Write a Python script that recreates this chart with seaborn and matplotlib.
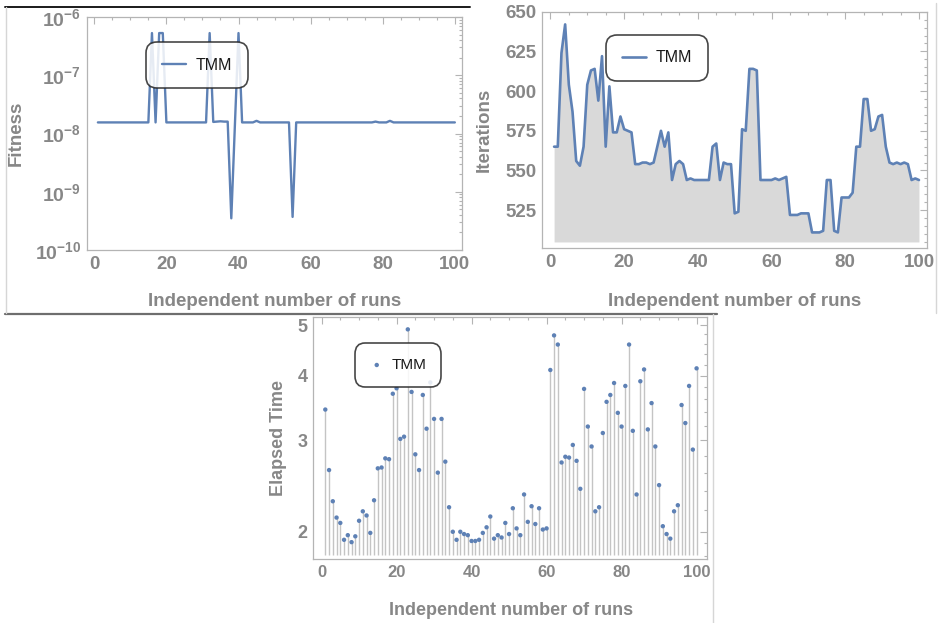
import numpy as np
import pandas as pd
import matplotlib
matplotlib.use("Agg")
import matplotlib.pyplot as plt
import seaborn as sns
from matplotlib.lines import Line2D
from matplotlib.ticker import FixedLocator, NullFormatter

# ---------------- data ----------------
runs = list(range(1, 101))

fitness = [
    1.55e-8, 1.55e-8, 1.55e-8, 1.55e-8, 1.55e-8, 1.55e-8, 1.55e-8, 1.55e-8, 1.55e-8, 1.55e-8,
    1.55e-8, 1.55e-8, 1.55e-8, 1.55e-8, 1.55e-8, 5.3e-7, 1.55e-8, 5.3e-7, 5.3e-7, 1.55e-8,
    1.55e-8, 1.55e-8, 1.55e-8, 1.55e-8, 1.55e-8, 1.55e-8, 1.55e-8, 1.55e-8, 1.55e-8, 1.55e-8,
    1.55e-8, 5.3e-7, 1.58e-8, 1.6e-8, 1.62e-8, 1.6e-8, 1.6e-8, 3.5e-10, 1.4e-8, 5.3e-7,
    1.55e-8, 1.55e-8, 1.55e-8, 1.55e-8, 1.65e-8, 1.55e-8, 1.55e-8, 1.55e-8, 1.55e-8, 1.55e-8,
    1.55e-8, 1.55e-8, 1.55e-8, 1.55e-8, 3.7e-10, 1.55e-8, 1.55e-8, 1.55e-8, 1.55e-8, 1.55e-8,
    1.55e-8, 1.55e-8, 1.55e-8, 1.55e-8, 1.55e-8, 1.55e-8, 1.55e-8, 1.55e-8, 1.55e-8, 1.55e-8,
    1.55e-8, 1.55e-8, 1.55e-8, 1.55e-8, 1.55e-8, 1.55e-8, 1.55e-8, 1.6e-8, 1.55e-8, 1.55e-8,
    1.55e-8, 1.65e-8, 1.55e-8, 1.55e-8, 1.55e-8, 1.55e-8, 1.55e-8, 1.55e-8, 1.55e-8, 1.55e-8,
    1.55e-8, 1.55e-8, 1.55e-8, 1.55e-8, 1.55e-8, 1.55e-8, 1.55e-8, 1.55e-8, 1.55e-8, 1.55e-8,
]

iterations = [
    565, 565, 624, 642, 604, 587, 556, 553, 565, 604,
    613, 614, 594, 622, 565, 603, 574, 574, 584, 576,
    575, 574, 554, 554, 555, 555, 554, 555, 565, 575,
    565, 574, 544, 554, 556, 554, 544, 545, 544, 544,
    544, 544, 544, 565, 567, 544, 555, 554, 554, 523,
    524, 576, 575, 614, 614, 613, 544, 544, 544, 544,
    545, 544, 545, 546, 522, 522, 522, 523, 523, 523,
    511, 511, 511, 512, 544, 544, 512, 511, 533, 533,
    533, 536, 565, 565, 595, 595, 575, 576, 584, 585,
    565, 555, 554, 555, 554, 555, 554, 544, 545, 544,
]

elapsed = [
    3.44, 2.63, 2.29, 2.13, 2.08, 1.93, 1.97, 1.91, 1.96, 2.10,
    2.19, 2.15, 1.99, 2.30, 2.65, 2.66, 2.77, 2.76, 3.69, 3.78,
    3.02, 3.05, 4.91, 3.72, 2.82, 2.63, 3.67, 3.16, 3.88, 3.30,
    2.60, 3.30, 2.73, 2.23, 2.00, 1.93, 2.00, 1.98, 1.97, 1.92,
    1.92, 1.93, 1.99, 2.04, 2.14, 1.94, 1.97, 1.95, 2.08, 1.98,
    2.22, 2.03, 1.97, 2.36, 2.09, 2.24, 2.07, 2.22, 2.02, 2.03,
    4.10, 4.78, 4.59, 2.72, 2.79, 2.78, 2.94, 2.74, 2.42, 3.77,
    3.19, 2.92, 2.19, 2.23, 3.10, 3.56, 3.67, 3.87, 3.39, 3.19,
    3.82, 4.59, 3.13, 2.36, 3.90, 4.11, 3.15, 3.54, 2.92, 2.46,
    2.05, 1.98, 1.94, 2.19, 2.25, 3.51, 3.24, 3.82, 2.88, 4.13,
]

series_name = "TMM"
x_label = "Independent number of runs"
x_ticks = [0, 20, 40, 60, 80, 100]
x_tick_labels = ["0", "20", "40", "60", "80", "100"]
fit_ticks = [1e-10, 1e-9, 1e-8, 1e-7, 1e-6]
fit_tick_labels = [r"$10^{-10}$", r"$10^{-9}$", r"$10^{-8}$", r"$10^{-7}$", r"$10^{-6}$"]
iter_ticks = [525, 550, 575, 600, 625, 650]
iter_tick_labels = ["525", "550", "575", "600", "625", "650"]
time_ticks = [2, 3, 4, 5]
time_tick_labels = ["2", "3", "4", "5"]

# ---------------- style ----------------
sns.set_style("white")
plt.rcParams["font.family"] = ["Liberation Sans", "DejaVu Sans"]
plt.rcParams["mathtext.fontset"] = "custom"
plt.rcParams["mathtext.rm"] = "Liberation Sans:bold"
plt.rcParams["mathtext.it"] = "Liberation Sans:bold"
plt.rcParams["mathtext.bf"] = "Liberation Sans:bold"
plt.rcParams["mathtext.sf"] = "Liberation Sans:bold"

BLUE = "#5E81B5"
GREY_TXT = "#878787"
SPINE = "#b4b4b4"

W, H = 939, 623
fig = plt.figure(figsize=(W / 100, H / 100), dpi=100)
fig.patch.set_facecolor("white")


def px_axes(l, t, r, b):
    return fig.add_axes([l / W, 1 - b / H, (r - l) / W, (b - t) / H])


def style_axes(ax, fs):
    for s in ax.spines.values():
        s.set_color(SPINE)
        s.set_linewidth(0.9)
    ax.tick_params(which="both", direction="in", top=True, right=True,
                   color=SPINE, labelcolor=GREY_TXT, labelsize=fs, width=0.8)
    ax.tick_params(which="major", length=5, pad=4)
    ax.tick_params(which="minor", length=2.5)
    ax.xaxis.set_major_locator(FixedLocator(x_ticks))
    ax.xaxis.set_minor_locator(FixedLocator(list(range(5, 100, 5))))
    ax.set_xticklabels(x_tick_labels, fontweight="bold", fontsize=fs, color=GREY_TXT)
    ax.grid(False)


def style_legend(ax, cx, cy, fs, hl, htp, bp):
    leg = ax.legend(loc="center", bbox_to_anchor=(cx / W, 1 - cy / H),
                    bbox_transform=fig.transFigure, frameon=True, fancybox=True,
                    framealpha=0.85, edgecolor="#262626", fontsize=fs,
                    handlelength=hl, handletextpad=htp, borderpad=bp)
    fr = leg.get_frame()
    fr.set_linewidth(1.2)
    fr.set_boxstyle("round,pad=0,rounding_size=0.7")
    for t in leg.get_texts():
        t.set_color("#1a1a1a")
    return leg


# ---------------- panel 1: fitness ----------------
df1 = pd.DataFrame({"run": runs, "fitness": fitness})
ax1 = px_axes(86.7, 17, 461.7, 250)
ax1.set_yscale("log")
sns.lineplot(data=df1, x="run", y="fitness", ax=ax1, color=BLUE, linewidth=1.7,
             label=series_name, estimator=None)
ax1.set_xlim(-2.1, 101.9)
ax1.set_ylim(1e-10, 1e-6)
style_axes(ax1, 13.5)
ax1.yaxis.set_major_locator(FixedLocator(fit_ticks))
ax1.set_yticklabels(fit_tick_labels, fontsize=14, color=GREY_TXT)
ax1.yaxis.set_minor_locator(FixedLocator(
    [m * 10.0 ** e for e in range(-10, -6) for m in range(2, 10)]))
ax1.yaxis.set_minor_formatter(NullFormatter())
ax1.set_xlabel(x_label, fontsize=13.5, fontweight="bold", color=GREY_TXT, va="top")
ax1.set_ylabel("Fitness", fontsize=13.5, fontweight="bold", color=GREY_TXT)
ax1.xaxis.set_label_coords(0.5, -0.185)
ax1.yaxis.set_label_coords(-0.165, 0.5)
style_legend(ax1, 197, 65, 11.5, 1.55, 0.6, 1.0)

# ---------------- panel 2: iterations ----------------
df2 = pd.DataFrame({"run": runs, "iterations": iterations})
ax2 = px_axes(542.3, 11.7, 926.7, 248.3)
ax2.fill_between(df2["run"], 505, df2["iterations"], color="#d9d9d9", linewidth=0)
sns.lineplot(data=df2, x="run", y="iterations", ax=ax2, color=BLUE, linewidth=1.9,
             label=series_name, estimator=None)
ax2.set_xlim(-2.2, 102.1)
ax2.set_ylim(501, 650)
style_axes(ax2, 13.5)
ax2.yaxis.set_major_locator(FixedLocator(iter_ticks))
ax2.set_yticklabels(iter_tick_labels, fontweight="bold", fontsize=13.5, color=GREY_TXT)
ax2.yaxis.set_minor_locator(FixedLocator(list(range(505, 650, 5))))
ax2.set_xlabel(x_label, fontsize=13.5, fontweight="bold", color=GREY_TXT, va="top")
ax2.set_ylabel("Iterations", fontsize=13.5, fontweight="bold", color=GREY_TXT)
ax2.xaxis.set_label_coords(0.5, -0.19)
ax2.yaxis.set_label_coords(-0.128, 0.5)
style_legend(ax2, 657, 58, 11.5, 1.55, 0.6, 1.0)

# ---------------- panel 3: elapsed time ----------------
df3 = pd.DataFrame({"run": runs, "elapsed": elapsed})
ax3 = px_axes(313.3, 317.3, 706.7, 559.3)
ax3.set_yscale("log")
ax3.vlines(df3["run"], 1.806, df3["elapsed"], color="#c4c4c4", linewidth=1.0, zorder=1)
sns.scatterplot(data=df3, x="run", y="elapsed", ax=ax3, color=BLUE, s=10,
                edgecolor="none", label=series_name, zorder=3)
ax3.set_xlim(-2.2, 102.7)
ax3.set_ylim(1.77, 5.18)
style_axes(ax3, 12)
ax3.yaxis.set_major_locator(FixedLocator(time_ticks))
ax3.set_yticklabels(time_tick_labels, fontweight="bold", fontsize=13, color=GREY_TXT)
ax3.yaxis.set_minor_locator(FixedLocator(
    [1.8, 1.9, 2.2, 2.4, 2.6, 2.8, 3.2, 3.4, 3.6, 3.8, 4.2, 4.4, 4.6, 4.8]))
ax3.yaxis.set_minor_formatter(NullFormatter())
ax3.set_xlabel(x_label, fontsize=13, fontweight="bold", color=GREY_TXT, va="top")
ax3.set_ylabel("Elapsed Time", fontsize=13, fontweight="bold", color=GREY_TXT)
ax3.xaxis.set_label_coords(0.502, -0.175)
ax3.yaxis.set_label_coords(-0.068, 0.5)
style_legend(ax3, 398, 365, 11, 1.0, 0.5, 0.95)

# ---------------- panel borders (screenshot frames) ----------------
def hline(x0, x1, y, color, lw):
    fig.add_artist(Line2D([x0 / W, x1 / W], [1 - y / H, 1 - y / H],
                          transform=fig.transFigure, color=color, linewidth=lw))


def vline(x, y0, y1, color, lw):
    fig.add_artist(Line2D([x / W, x / W], [1 - y0 / H, 1 - y1 / H],
                          transform=fig.transFigure, color=color, linewidth=lw))


hline(5, 470, 7, "#1a1a1a", 1.4)
hline(5, 717, 313.5, "#6e6e6e", 1.6)
vline(5.5, 7, 313, "#d6d6d6", 1.0)
vline(936, 3, 313, "#d6d6d6", 1.0)
vline(713, 314, 623, "#d6d6d6", 1.0)

fig.savefig("out.png", dpi=100, facecolor="white")
